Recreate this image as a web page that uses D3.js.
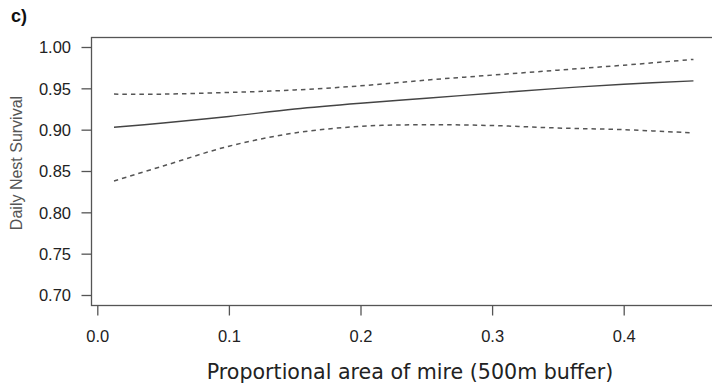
<!DOCTYPE html>
<html>
<head>
<meta charset="utf-8">
<script src="https://cdn.jsdelivr.net/npm/d3@7"></script>
<style>
  html, body { margin: 0; padding: 0; background: #fff; }
  svg { display: block; }
</style>
</head>
<body>
<svg id="chart" width="712" height="387"></svg>
<script>
// Proportional area of mire within a 500 m buffer
const mireArea = [0.0127, 0.05, 0.10, 0.15, 0.20, 0.25, 0.30, 0.35, 0.40, 0.453];
// Predicted daily nest survival and its confidence limits
const survivalFit   = [0.903, 0.908, 0.916, 0.925, 0.932, 0.938, 0.944, 0.950, 0.955, 0.959];
const survivalUpper = [0.943, 0.943, 0.945, 0.948, 0.953, 0.960, 0.966, 0.972, 0.978, 0.985];
const survivalLower = [0.838, 0.856, 0.880, 0.896, 0.904, 0.906, 0.905, 0.902, 0.900, 0.896];

const xTicks = [0.0, 0.1, 0.2, 0.3, 0.4];
const yTicks = [0.70, 0.75, 0.80, 0.85, 0.90, 0.95, 1.00];

const svg = d3.select("#chart");
const W = 712, H = 387;
svg.append("rect").attr("width", W).attr("height", H).attr("fill", "#fff");

// plot region (the frame runs on past the right edge)
const box = { left: 91.5, top: 37.5, right: 716, bottom: 305.5 };

const x = d3.scaleLinear().domain([0, 0.4]).range([97.3, 97.3 + 0.4 * 1316]);
const y = d3.scaleLinear().domain([0.70, 1.00]).range([295, 47]);

const font = "'Liberation Sans', Arial, Helvetica, sans-serif";

// frame
svg.append("rect")
  .attr("x", box.left).attr("y", box.top)
  .attr("width", box.right - box.left).attr("height", box.bottom - box.top)
  .attr("fill", "none").attr("stroke", "#555").attr("stroke-width", 1.3);

// y axis
const yAxis = d3.axisLeft(y).tickValues(yTicks).tickFormat(d3.format(".2f"))
  .tickSize(10).tickPadding(10.5);
const gy = svg.append("g").attr("transform", `translate(${box.left},0)`).call(yAxis);
gy.select(".domain").remove();
gy.selectAll(".tick line").attr("stroke", "#555").attr("stroke-width", 1.3);
gy.selectAll(".tick text").attr("font-family", font).attr("font-size", 16.5)
  .attr("fill", "#222").attr("dy", "0.36em");

// x axis
const xAxis = d3.axisBottom(x).tickValues(xTicks).tickFormat(d3.format(".1f"))
  .tickSize(10).tickPadding(15);
const gx = svg.append("g").attr("transform", `translate(0,${box.bottom})`).call(xAxis);
gx.select(".domain").remove();
gx.selectAll(".tick line").attr("stroke", "#555").attr("stroke-width", 1.3);
gx.selectAll(".tick text").attr("font-family", font).attr("font-size", 16.5)
  .attr("fill", "#222");

// curves
const line = d3.line()
  .x((d, i) => x(mireArea[i]))
  .y(d => y(d))
  .curve(d3.curveCatmullRom.alpha(0.5));

svg.append("path").datum(survivalUpper).attr("d", line)
  .attr("fill", "none").attr("stroke", "#555").attr("stroke-width", 1.5)
  .attr("stroke-dasharray", "4.5,4");
svg.append("path").datum(survivalLower).attr("d", line)
  .attr("fill", "none").attr("stroke", "#555").attr("stroke-width", 1.5)
  .attr("stroke-dasharray", "4.5,4");
svg.append("path").datum(survivalFit).attr("d", line)
  .attr("fill", "none").attr("stroke", "#444").attr("stroke-width", 1.4);

// labels
svg.append("text")
  .attr("transform", "translate(22,163) rotate(-90)")
  .attr("text-anchor", "middle")
  .attr("font-family", font).attr("font-size", 16).attr("fill", "#555")
  .text("Daily Nest Survival");

svg.append("text")
  .attr("x", 410).attr("y", 378.5)
  .attr("text-anchor", "middle")
  .attr("font-family", "'DejaVu Sans', sans-serif").attr("font-size", 20.6).attr("fill", "#222")
  .text("Proportional area of mire (500m buffer)");

svg.append("text")
  .attr("x", 11).attr("y", 22)
  .attr("font-family", font).attr("font-weight", "bold").attr("font-size", 18).attr("fill", "#111")
  .text("c)");
</script>
</body>
</html>
